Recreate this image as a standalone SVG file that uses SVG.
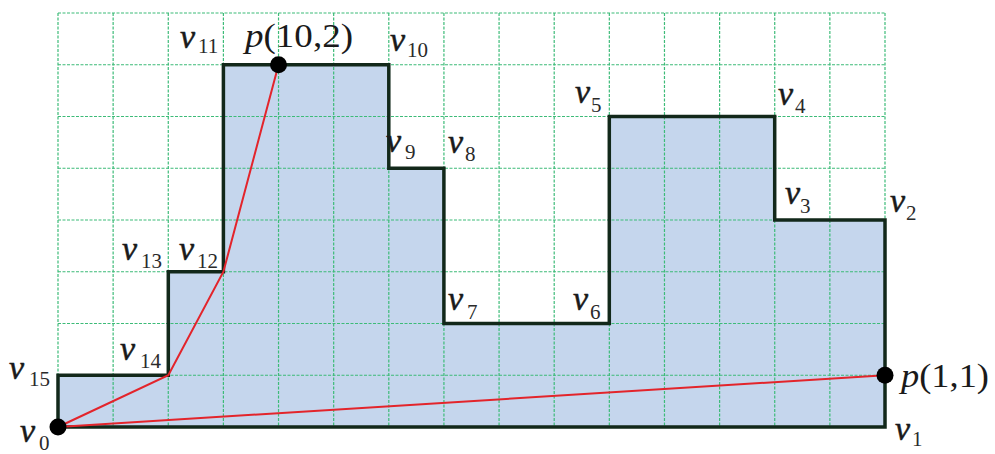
<svg xmlns="http://www.w3.org/2000/svg" width="995" height="454" viewBox="0 0 995 454">
<style>
.grid line{stroke:#3dbb78;stroke-width:1.2;stroke-dasharray:3 1.5}
.v{font-family:"Liberation Serif","Times New Roman",serif;font-size:34px;font-style:italic;fill:#1a1a1a;stroke:#1a1a1a;stroke-width:0.5}
.s{font-family:"Liberation Serif","Times New Roman",serif;font-size:21px;font-style:normal;fill:#2a2a2a}
.pt{font-family:"Liberation Serif","Times New Roman",serif;font-size:33px;fill:#1a1a1a}
.it{font-style:italic}
.red{stroke:#e3242b;stroke-width:2;fill:none}
</style>
<rect x="0" y="0" width="995" height="454" fill="#ffffff"/>
<g id="polygon-fill">
<polygon points="58,427 885,427 885,220 774.7,220 774.7,116.5 609.3,116.5 609.3,323.5 443.9,323.5 443.9,168.25 388.8,168.25 388.8,64.75 223.4,64.75 223.4,271.75 168.3,271.75 168.3,375.25 58,375.25" fill="#c5d6ed"/>
</g>
<g id="grid" class="grid">
<line x1="58" y1="13" x2="58" y2="427"/>
<line x1="113.13" y1="13" x2="113.13" y2="427"/>
<line x1="168.27" y1="13" x2="168.27" y2="427"/>
<line x1="223.4" y1="13" x2="223.4" y2="427"/>
<line x1="278.53" y1="13" x2="278.53" y2="427"/>
<line x1="333.67" y1="13" x2="333.67" y2="427"/>
<line x1="388.8" y1="13" x2="388.8" y2="427"/>
<line x1="443.93" y1="13" x2="443.93" y2="427"/>
<line x1="499.07" y1="13" x2="499.07" y2="427"/>
<line x1="554.2" y1="13" x2="554.2" y2="427"/>
<line x1="609.33" y1="13" x2="609.33" y2="427"/>
<line x1="664.47" y1="13" x2="664.47" y2="427"/>
<line x1="719.6" y1="13" x2="719.6" y2="427"/>
<line x1="774.73" y1="13" x2="774.73" y2="427"/>
<line x1="829.87" y1="13" x2="829.87" y2="427"/>
<line x1="885" y1="13" x2="885" y2="427"/>
<line x1="58" y1="13" x2="885" y2="13"/>
<line x1="58" y1="64.75" x2="885" y2="64.75"/>
<line x1="58" y1="116.5" x2="885" y2="116.5"/>
<line x1="58" y1="168.25" x2="885" y2="168.25"/>
<line x1="58" y1="220" x2="885" y2="220"/>
<line x1="58" y1="271.75" x2="885" y2="271.75"/>
<line x1="58" y1="323.5" x2="885" y2="323.5"/>
<line x1="58" y1="375.25" x2="885" y2="375.25"/>
<line x1="58" y1="427" x2="885" y2="427"/>
</g>
<g id="polygon-outline">
<polygon points="58,427 885,427 885,220 774.7,220 774.7,116.5 609.3,116.5 609.3,323.5 443.9,323.5 443.9,168.25 388.8,168.25 388.8,64.75 223.4,64.75 223.4,271.75 168.3,271.75 168.3,375.25 58,375.25" fill="none" stroke="#12281a" stroke-width="3.5" stroke-linejoin="miter"/>
</g>
<g id="connectors">
<polyline class="red" points="58,427 168.3,375.25 223.4,271.75 278.53,64.75"/>
<line class="red" x1="58" y1="427" x2="885" y2="375.25"/>
</g>
<g id="point-v0"><circle cx="58" cy="427" r="8.5" fill="#000"/></g>
<g id="point-p102"><circle cx="278.53" cy="64.75" r="8.5" fill="#000"/>
<text class="pt" x="245" y="47" textLength="108" lengthAdjust="spacingAndGlyphs"><tspan class="it">p</tspan>(10,2)</text></g>
<g id="point-p11"><circle cx="885" cy="375.25" r="8.5" fill="#000"/>
<text class="pt" x="901" y="387" textLength="88" lengthAdjust="spacingAndGlyphs"><tspan class="it">p</tspan>(1,1)</text></g>
<g id="labels">
<g id="v0"><text class="v" x="20" y="442">v</text><text class="s" x="39" y="450">0</text></g>
<g id="v1"><text class="v" x="895" y="440">v</text><text class="s" x="912" y="446">1</text></g>
<g id="v2"><text class="v" x="890" y="212">v</text><text class="s" x="906" y="220">2</text></g>
<g id="v3"><text class="v" x="785" y="204">v</text><text class="s" x="800" y="213">3</text></g>
<g id="v4"><text class="v" x="778" y="105">v</text><text class="s" x="795" y="113">4</text></g>
<g id="v5"><text class="v" x="575" y="103">v</text><text class="s" x="591" y="112">5</text></g>
<g id="v6"><text class="v" x="573" y="310">v</text><text class="s" x="590" y="319">6</text></g>
<g id="v7"><text class="v" x="448" y="310">v</text><text class="s" x="467" y="319">7</text></g>
<g id="v8"><text class="v" x="448" y="153">v</text><text class="s" x="465" y="161">8</text></g>
<g id="v9"><text class="v" x="386" y="152">v</text><text class="s" x="405" y="159">9</text></g>
<g id="v10"><text class="v" x="390" y="51">v</text><text class="s" x="407" y="57">10</text></g>
<g id="v11"><text class="v" x="180" y="48">v</text><text class="s" x="198" y="53">11</text></g>
<g id="v12"><text class="v" x="179" y="260">v</text><text class="s" x="197" y="268">12</text></g>
<g id="v13"><text class="v" x="122" y="260">v</text><text class="s" x="141" y="268">13</text></g>
<g id="v14"><text class="v" x="120" y="360">v</text><text class="s" x="140" y="368">14</text></g>
<g id="v15"><text class="v" x="9" y="379">v</text><text class="s" x="29" y="386">15</text></g>
</g>
</svg>
